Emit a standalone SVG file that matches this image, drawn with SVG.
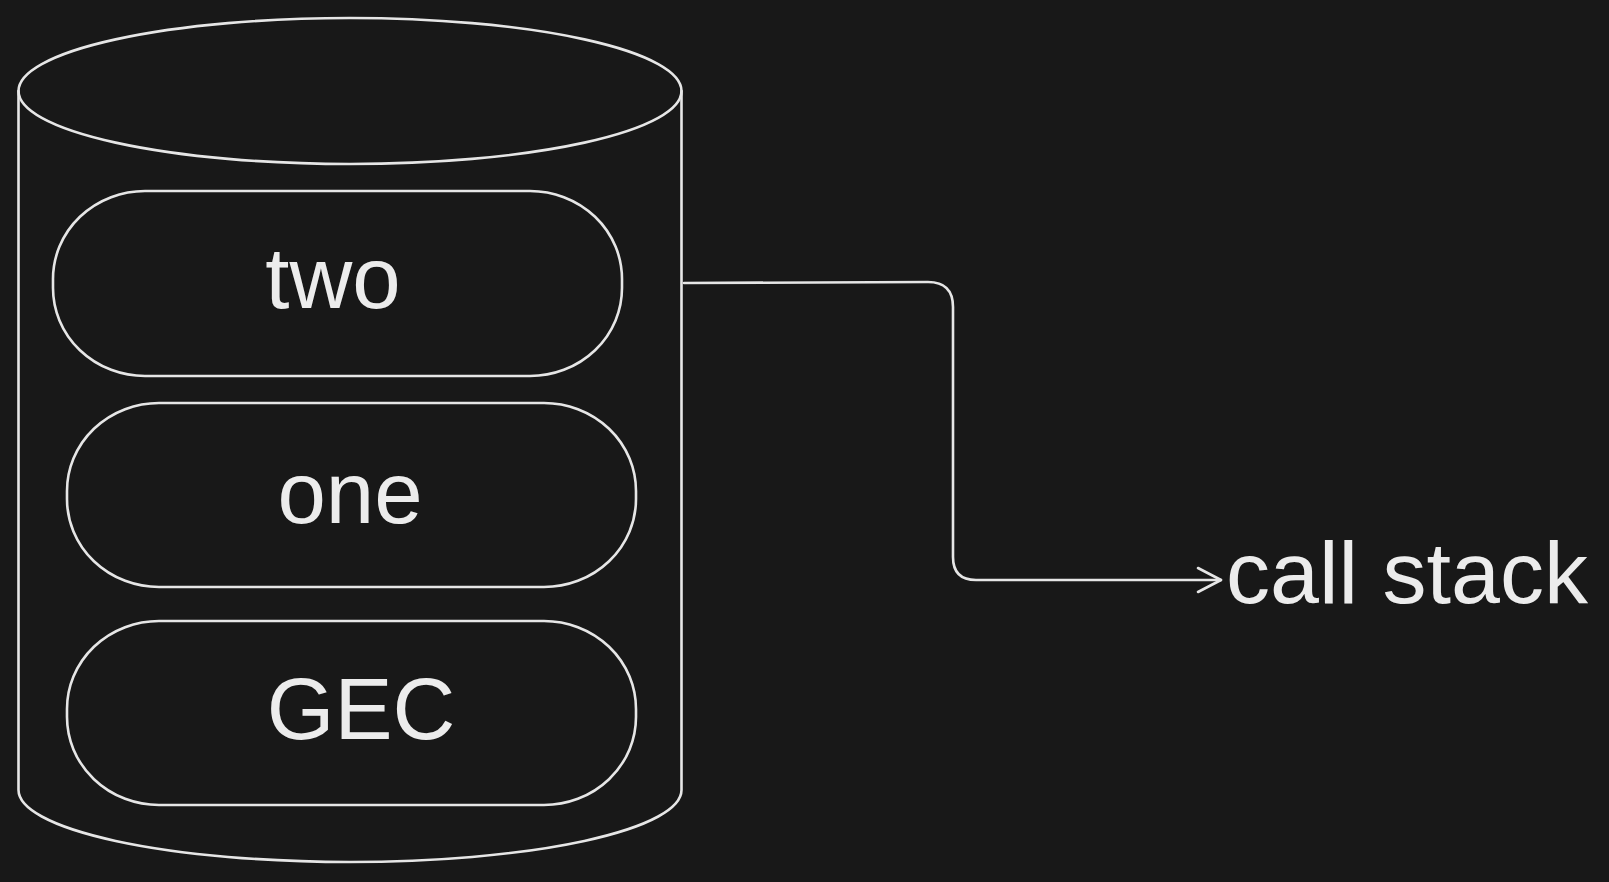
<svg xmlns="http://www.w3.org/2000/svg" width="1609" height="882" viewBox="0 0 1609 882">
<style>
.s{fill:none;stroke:#e6e6e6;stroke-width:2.6;stroke-linecap:round;stroke-linejoin:round}
.t{font-family:"Liberation Sans",Arial,sans-serif;font-size:87px;fill:#ececec;text-anchor:middle}
</style>
<defs>
<marker id="ah" markerWidth="30" markerHeight="34" refX="26" refY="15" orient="auto" markerUnits="userSpaceOnUse">
<path d="M3,3 L26,15 L3,27" fill="none" stroke="#e6e6e6" stroke-width="2.6" stroke-linecap="round" stroke-linejoin="round"/>
</marker>
</defs>
<rect width="1609" height="882" fill="#181818"/>
<g id="cylinder">
<ellipse class="s" cx="350" cy="91" rx="331.5" ry="73"/>
<path class="s" d="M18.5,91 L18.5,790 A331.5,72 0 0 0 681.5,790 L681.5,91"/>
</g>
<g id="node-two">
<rect class="s" x="53" y="191" width="569" height="185" rx="92" ry="88"/>
<text class="t" x="333" y="308">two</text>
</g>
<g id="node-one">
<rect class="s" x="67" y="403" width="569" height="184" rx="92" ry="88"/>
<text class="t" x="350" y="523">one</text>
</g>
<g id="node-gec">
<rect class="s" x="67" y="621" width="569" height="184" rx="92" ry="88"/>
<text class="t" x="361" y="739">GEC</text>
</g>
<g id="label-callstack">
<text class="t" x="1226" y="603" style="text-anchor:start;font-size:88px">call stack</text>
</g>
<g id="connectors">
<path class="s" d="M684,283 L928,282 Q953,282 953,307 L953,557 Q953,580 976,580 L1221,580" marker-end="url(#ah)"/>
</g>
</svg>
